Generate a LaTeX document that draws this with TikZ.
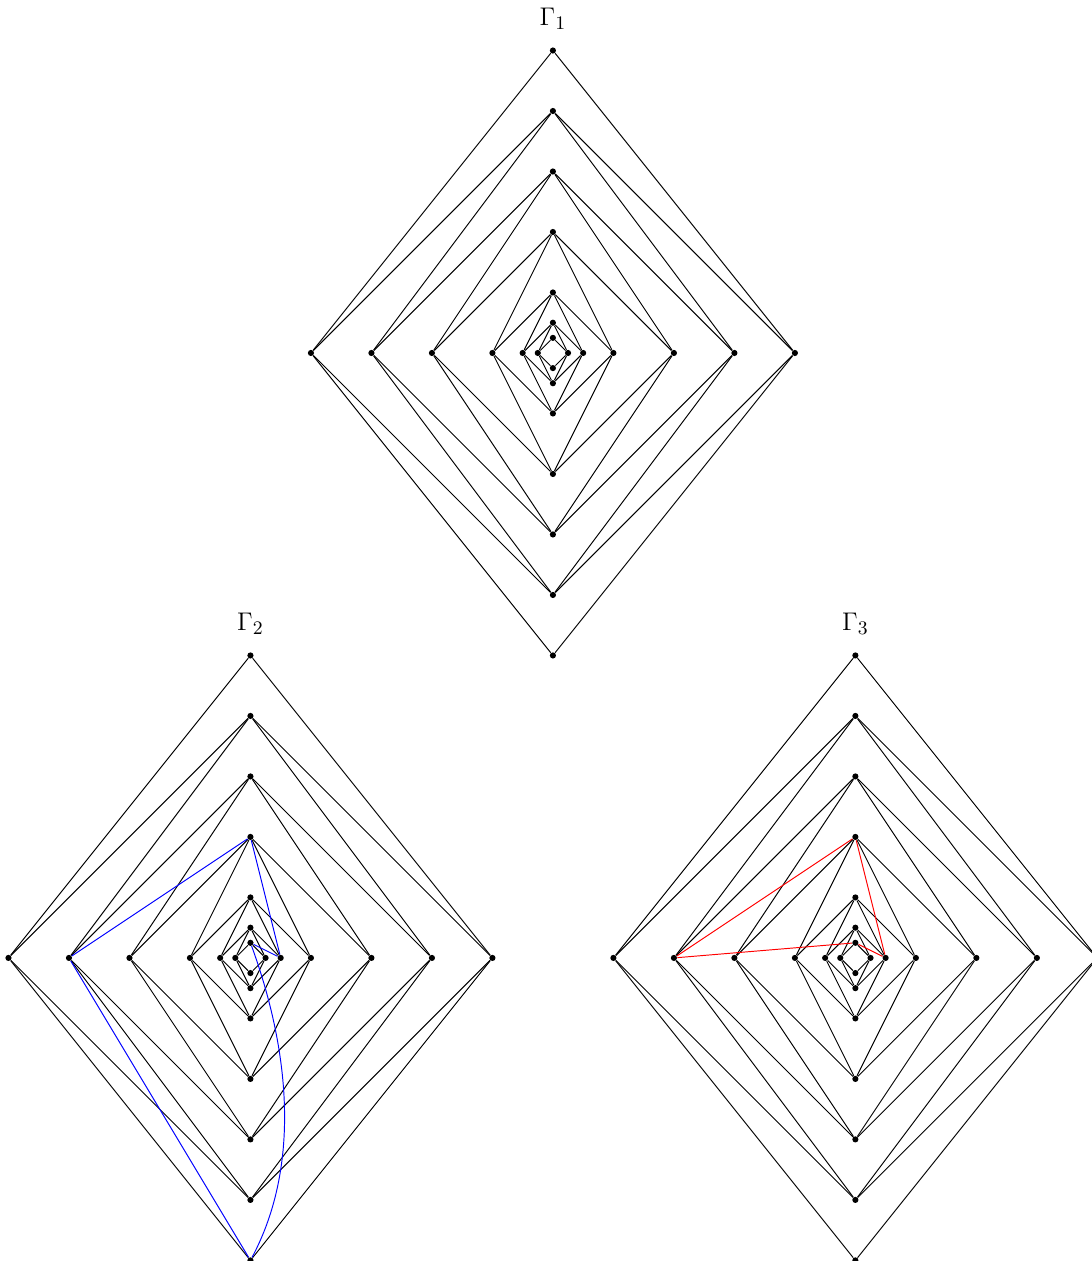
\documentclass[tikz,border=0pt]{standalone}
\begin{document}
\begin{tikzpicture}[x=1cm,y=1cm,
  vtx/.style={circle,fill=black,inner sep=0pt,minimum size=2.9pt},
  edge/.style={black,line width=0.45pt},
  hl/.style={line width=0.45pt},
  lab/.style={font=\fontsize{13}{15}\selectfont}]
\useasboundingbox (-9.14,-15.01) rectangle (8.91,5.835);
\foreach \p/\cx/\cy/\n in {a/0/0/1, b/-5/-10/2, c/5/-10/3} {
  \begin{scope}[shift={(\cx,\cy)}]
    \foreach \r [count=\i from 0] in {5,4,3,2,1,0.5,0.25} {
      \node[vtx] (\p T\i) at (0,\r) {};
      \node[vtx] (\p B\i) at (0,-\r) {};
    }
    \foreach \r [count=\i from 0] in {4,3,2,1,0.5,0.25} {
      \node[vtx] (\p L\i) at (-\r,0) {};
      \node[vtx] (\p R\i) at (\r,0) {};
    }
    \foreach \i in {0,...,5} {
      \pgfmathtruncatemacro\j{\i+1}
      \foreach \s in {L,R} {
        \draw[edge] (\p T\i) -- (\p \s\i) -- (\p B\i);
        \draw[edge] (\p T\j) -- (\p \s\i) -- (\p B\j);
      }
    }
    \node[lab] (\p lab) at (0,5.52) {$\Gamma_\n$};
  \end{scope}
}
\draw[hl,blue] (bT3) -- (bL1) -- (bB0) to[out=62,in=-70,looseness=0.88] (bT6) -- (bR4) -- (bT3);
\draw[hl,red] (cT3) -- (cL1) -- (cT6) -- (cR4) -- (cT3);
\end{tikzpicture}
\end{document}
